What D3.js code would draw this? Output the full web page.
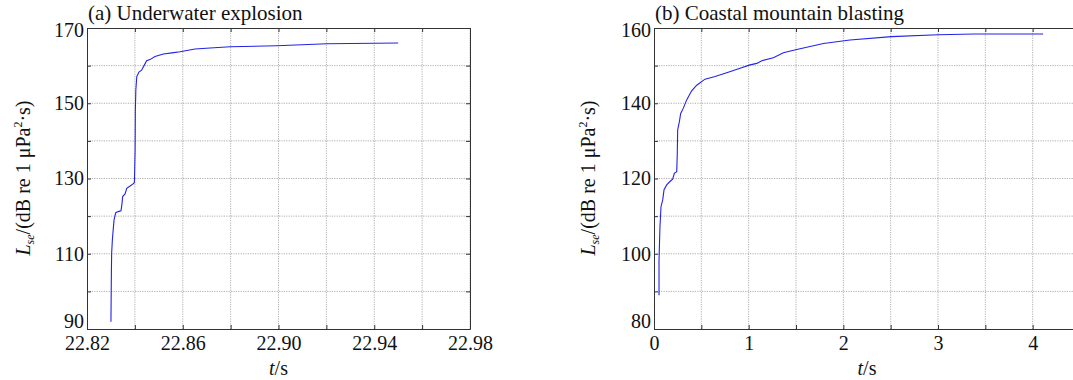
<!DOCTYPE html>
<html>
<head>
<meta charset="utf-8">
<script src="https://cdnjs.cloudflare.com/ajax/libs/d3/7.8.5/d3.min.js"></script>
<style>
  body { margin: 0; background: #fff; }
  svg { display: block; font-family: "Liberation Serif", "DejaVu Serif", serif; }
  .grid line { stroke: #9a9a9a; stroke-width: 0.8; stroke-dasharray: 1.2,1.2; }
  .axis path, .axis line { stroke: #333; stroke-width: 1; }
  .axis text { font-size: 20px; fill: #111; font-family: "Liberation Serif", serif; }
</style>
</head>
<body>
<svg id="chart" width="1073" height="380"></svg>
<script>
// (a) underwater explosion: time (s) and level (dB)
var tA = [22.8300, 22.8302, 22.8303, 22.8306, 22.8310, 22.8313, 22.8320, 22.8330, 22.8342, 22.8346,
  22.8349, 22.8359, 22.8366, 22.8380, 22.8391, 22.8398, 22.8401, 22.8402, 22.8404, 22.8408,
  22.8417, 22.8428, 22.8440, 22.8449, 22.8463, 22.8484, 22.8519, 22.8555, 22.8589, 22.8651,
  22.8714, 22.8798, 22.8993, 22.9202, 22.9500];
var vA = [91.9, 105.7, 110.2, 113.7, 116.8, 119.0, 120.9, 121.2, 121.4, 123.2,
  125.2, 125.9, 127.4, 128.0, 128.5, 128.9, 137.6, 148.2, 153.5, 157.1,
  158.3, 158.8, 160.2, 161.3, 161.6, 162.4, 163.1, 163.4, 163.7, 164.4,
  164.7, 165.0, 165.3, 165.8, 166.0];

// (b) coastal mountain blasting
var tB = [0.053, 0.053, 0.063, 0.074, 0.092, 0.106, 0.134, 0.169, 0.197, 0.215,
  0.240, 0.246, 0.250, 0.268, 0.282, 0.310, 0.345, 0.398, 0.451, 0.539,
  0.645, 0.768, 0.909, 1.015, 1.086, 1.139, 1.261, 1.367, 1.508, 1.790,
  2.070, 2.510, 3.000, 3.390, 4.110];
var vB = [89.0, 98.3, 107.2, 112.5, 114.3, 117.0, 118.3, 119.2, 119.8, 121.4,
  121.8, 126.7, 132.9, 135.1, 137.3, 138.7, 140.9, 143.3, 144.8, 146.4,
  147.1, 148.1, 149.3, 150.2, 150.6, 151.3, 152.1, 153.4, 154.3, 155.9,
  156.8, 157.7, 158.2, 158.4, 158.4];

var xTicksA = [22.82, 22.84, 22.86, 22.88, 22.90, 22.92, 22.94, 22.96, 22.98];
var xLabelsA = [22.82, 22.86, 22.90, 22.94, 22.98];
var yTicksA = [90, 100, 110, 120, 130, 140, 150, 160, 170];
var yLabelsA = [90, 110, 130, 150, 170];

var xTicksB = [0, 0.5, 1, 1.5, 2, 2.5, 3, 3.5, 4, 4.5];
var xLabelsB = [0, 1, 2, 3, 4];
var yTicksB = [80, 90, 100, 110, 120, 130, 140, 150, 160];
var yLabelsB = [80, 100, 120, 140, 160];

var svg = d3.select("#chart");

function panel(o) {
  var x = d3.scaleLinear().domain(o.xDomain).range([o.left, o.right]);
  var y = d3.scaleLinear().domain(o.yDomain).range([329, 28]);
  var g = svg.append("g");

  // grid
  var grid = g.append("g").attr("class", "grid");
  grid.selectAll(".gx").data(o.xTicks.slice(1)).enter().append("line")
    .attr("x1", d => x(d)).attr("x2", d => x(d)).attr("y1", 28).attr("y2", 329);
  grid.selectAll(".gy").data(o.yTicks.slice(1, -1)).enter().append("line")
    .attr("y1", d => y(d)).attr("y2", d => y(d)).attr("x1", o.left).attr("x2", o.right);

  var fx = o.fx;
  var bottom = d3.axisBottom(x).tickValues(o.xTicks).tickSizeInner(-4).tickSizeOuter(0).tickPadding(7)
    .tickFormat(d => o.xLabels.some(v => Math.abs(v - d) < 1e-9) ? fx(d) : "");
  var left = d3.axisLeft(y).tickValues(o.yTicks).tickSizeInner(-4).tickSizeOuter(0).tickPadding(3)
    .tickFormat(d => o.yLabels.indexOf(d) >= 0 ? d : "");
  var top = d3.axisTop(x).tickValues(o.xTicks).tickSizeInner(-4).tickSizeOuter(0).tickFormat("");
  var right = d3.axisRight(y).tickValues(o.yTicks).tickSizeInner(-4).tickSizeOuter(0).tickFormat("");

  g.append("g").attr("class", "axis").attr("transform", "translate(0,329)").call(bottom)
    .attr("font-family", null);
  var la = g.append("g").attr("class", "axis").attr("transform", "translate(" + o.left + ",0)").call(left)
    .attr("font-family", null);
  g.append("g").attr("class", "axis").attr("transform", "translate(0,28)").call(top);
  g.append("g").attr("class", "axis").attr("transform", "translate(" + o.right + ",0)").call(right);
  // lowest y label sits above the corner, top one a bit lower
  la.selectAll(".tick text").filter(d => d === o.yDomain[0]).attr("dy", "-0.08em");
  la.selectAll(".tick text").filter(d => d === o.yDomain[1]).attr("dy", "0.42em");

  // curve
  var line = d3.line().x(d => x(d[0])).y(d => y(d[1]));
  g.append("path").datum(o.t.map((d, i) => [d, o.v[i]]))
    .attr("d", line).attr("fill", "none").attr("stroke", "#2323e6").attr("stroke-width", 1.1);

  // title
  g.append("text").attr("x", o.left + 1).attr("y", 20).attr("font-size", 21).attr("fill", "#111")
    .text(o.title);

  // x label
  var xl = g.append("text").attr("x", (o.left + o.right) / 2).attr("y", 375)
    .attr("text-anchor", "middle").attr("font-size", 20).attr("fill", "#111");
  xl.append("tspan").attr("font-style", "italic").text("t");
  xl.append("tspan").text("/s");

  // y label
  var yl = g.append("text").attr("transform", "translate(" + o.ylx + ",178) rotate(-90)")
    .attr("text-anchor", "middle").attr("font-size", 20).attr("fill", "#111");
  yl.append("tspan").attr("font-style", "italic").text("L");
  yl.append("tspan").attr("font-style", "italic").attr("font-size", 12).attr("dy", 4).text("se");
  yl.append("tspan").attr("dy", -4).text("/(dB re 1 \u03bcPa");
  yl.append("tspan").attr("font-size", 12).attr("dy", -8).text("2");
  yl.append("tspan").attr("dy", 8).text("\u00b7s)");
}

panel({
  left: 87, right: 470, xDomain: [22.82, 22.98], yDomain: [90, 170],
  xTicks: xTicksA, xLabels: xLabelsA, yTicks: yTicksA, yLabels: yLabelsA,
  fx: d3.format(".2f"), t: tA, v: vA, title: "(a) Underwater explosion", ylx: 30
});
panel({
  left: 654, right: 1080, xDomain: [0, 4.5], yDomain: [80, 160],
  xTicks: xTicksB, xLabels: xLabelsB, yTicks: yTicksB, yLabels: yLabelsB,
  fx: d3.format("d"), t: tB, v: vB, title: "(b) Coastal mountain blasting", ylx: 595
});
</script>
</body>
</html>
